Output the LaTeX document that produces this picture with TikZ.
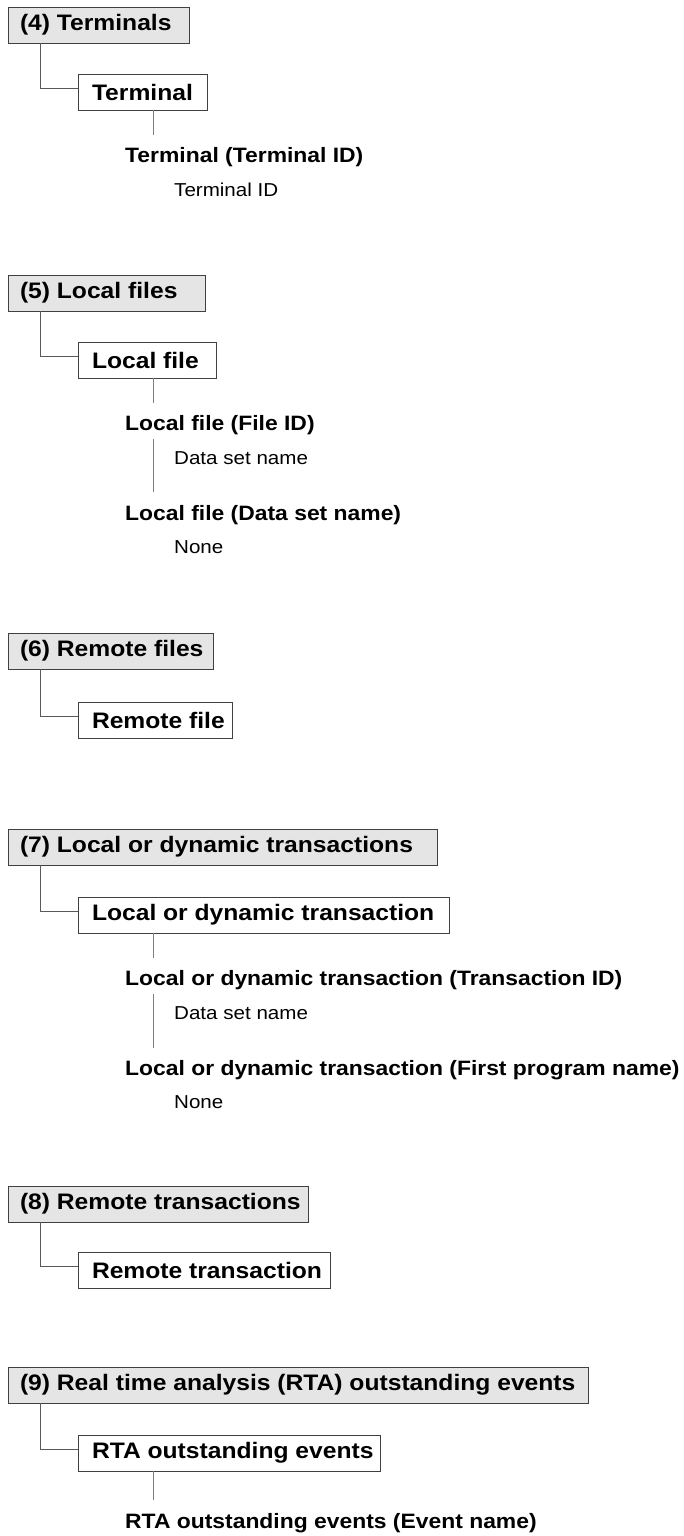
\documentclass[tikz,border=0pt]{standalone}
\usepackage{fontspec}
\setmainfont[FakeStretch=1.1]{Liberation Sans}
\tikzset{
  tbox/.style={draw=black!75, fill=black!10, line width=0.9pt, minimum height=36pt, inner xsep=12pt, inner ysep=0pt, outer sep=0pt, anchor=north west, font=\bfseries\fontsize{22.4}{26}\selectfont},
  sbox/.style={draw=black!75, fill=white, line width=0.9pt, minimum height=36pt, inner xsep=14pt, inner ysep=0pt, outer sep=0pt, anchor=north west, font=\bfseries\fontsize{22.4}{26}\selectfont},
  detail/.style={anchor=base west, inner sep=0pt, font=\bfseries\fontsize{20.8}{24}\selectfont},
  plain/.style={anchor=base west, inner sep=0pt, font=\fontsize{18.7}{22}\selectfont},
  conn/.style={draw=black!65, line width=0.9pt},
  vline/.style={draw=black!50, line width=0.9pt},
}
\newcommand\tboxnode[4]{\node[tbox] (#1) at (8,#2) {\makebox[\dimexpr#3pt-24pt\relax][l]{\raisebox{-1pt}{#4}}};}
\newcommand\sboxnode[4]{\node[sbox] (#1) at (78,#2) {\makebox[\dimexpr#3pt-28pt\relax][l]{\raisebox{-1pt}{#4}}};}
\begin{document}
\begin{tikzpicture}[x=1pt,y=-1pt]
\useasboundingbox (0,0) rectangle (684,1536);
% ---- (4)
\tboxnode{t4}{7}{181}{(4) Terminals}
\sboxnode{b4}{74}{129}{Terminal}
\node[detail] (d4) at (125,162) {Terminal (Terminal ID)};
\node[plain] (p4) at (174,196) {Terminal ID};
\draw[conn] ([xshift=32pt]t4.south west) |- ([yshift=4pt]b4.west);
\coordinate (e4) at (153,135);
\draw[vline] (b4.south west -| e4) -- (e4);
% ---- (5)
\tboxnode{t5}{275}{197}{(5) Local files}
\sboxnode{b5}{342}{138}{Local file}
\node[detail] (d5a) at (125,430) {Local file (File ID)};
\node[plain] (p5a) at (174,464) {Data set name};
\node[detail] (d5b) at (125,520) {Local file (Data set name)};
\node[plain] (p5b) at (174,553) {None};
\draw[conn] ([xshift=32pt]t5.south west) |- ([yshift=4pt]b5.west);
\coordinate (e5) at (153,403);
\draw[vline] (b5.south west -| e5) -- (e5);
\coordinate (f5a) at (153,439);
\coordinate (f5b) at (153,492);
\draw[vline] (f5a) -- (f5b);
% ---- (6)
\tboxnode{t6}{633}{205}{(6) Remote files}
\sboxnode{b6}{702}{154}{Remote file}
\draw[conn] ([xshift=32pt]t6.south west) |- ([yshift=4pt]b6.west);
% ---- (7)
\tboxnode{t7}{829}{429}{(7) Local or dynamic transactions}
\sboxnode{b7}{897}{371}{Local or dynamic transaction}
\node[detail] (d7a) at (125,985) {Local or dynamic transaction (Transaction ID)};
\node[plain] (p7a) at (174,1019) {Data set name};
\node[detail] (d7b) at (125,1075) {Local or dynamic transaction (First program name)};
\node[plain] (p7b) at (174,1108) {None};
\draw[conn] ([xshift=32pt]t7.south west) |- ([yshift=4pt]b7.west);
\coordinate (e7) at (153,958);
\draw[vline] (b7.south west -| e7) -- (e7);
\coordinate (f7a) at (153,994);
\coordinate (f7b) at (153,1048);
\draw[vline] (f7a) -- (f7b);
% ---- (8)
\tboxnode{t8}{1186}{300}{(8) Remote transactions}
\sboxnode{b8}{1252}{252}{Remote transaction}
\draw[conn] ([xshift=32pt]t8.south west) |- ([yshift=4pt]b8.west);
% ---- (9)
\tboxnode{t9}{1367}{580}{(9) Real time analysis (RTA) outstanding events}
\sboxnode{b9}{1435}{302}{RTA outstanding events}
\node[detail] (d9) at (125,1528) {RTA outstanding events (Event name)};
\draw[conn] ([xshift=32pt]t9.south west) |- ([yshift=4pt]b9.west);
\coordinate (e9) at (153,1500);
\draw[vline] (b9.south west -| e9) -- (e9);
\end{tikzpicture}
\end{document}
